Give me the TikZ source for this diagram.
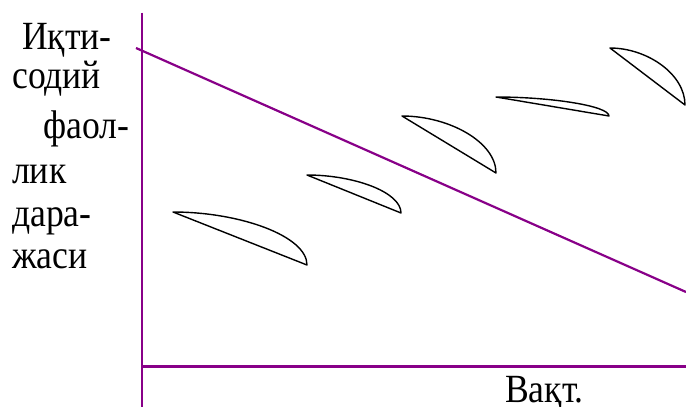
\documentclass[tikz,border=0pt]{standalone}
\usepackage{fontspec}
\setmainfont{Liberation Serif}[FakeStretch=0.89]
\definecolor{axispurple}{RGB}{136,0,136}
\begin{document}
\begin{tikzpicture}[x=1pt,y=-1pt,
  axisline/.style={draw=axispurple,line width=2.2pt},
  crescent/.style={draw=black,line width=1.4pt,line join=round},
  lbl/.style={anchor=base west,inner sep=0pt,font=\fontsize{40}{42}\selectfont}]
\useasboundingbox (0,0) rectangle (686,407);
% axes
\coordinate (ytop) at (142,12.5);
\coordinate (ybot) at (142,407);
\coordinate (xl) at (142,366.5);
\coordinate (xr) at (686,366.5);
\draw[axisline] (ytop) -- (ybot);
\draw[axisline] (xl) -- (xr);
% trend line
\coordinate (ts) at (136,48);
\coordinate (te) at (686,292);
\draw[axisline] (ts) -- (te);
% crescents
\draw[crescent] (173,212) -- (307,265) .. controls (307,236) and (240,212) .. cycle;
\draw[crescent] (307,175) -- (401,213) .. controls (401,192) and (354,175) .. cycle;
\draw[crescent] (402,116) -- (496,173) .. controls (496,142) and (449,116) .. cycle;
\draw[crescent] (496,97) -- (609,116) .. controls (609,106) and (552,97) .. cycle;
\draw[crescent] (610,48) -- (685,105) .. controls (685,74) and (647,48) .. cycle;
% labels
\node[lbl] (l1) at (22,49.5) {Иқти-};
\node[lbl] (l2) at (12,88) {содий};
\node[lbl] (l3) at (43,138) {фаол-};
\node[lbl] (l4) at (12,183) {лик};
\node[lbl] (l5) at (12,226) {дара-};
\node[lbl] (l6) at (12,268) {жаси};
\node[lbl] (xlab) at (505,402.5) {Вақт.};
\end{tikzpicture}
\end{document}
